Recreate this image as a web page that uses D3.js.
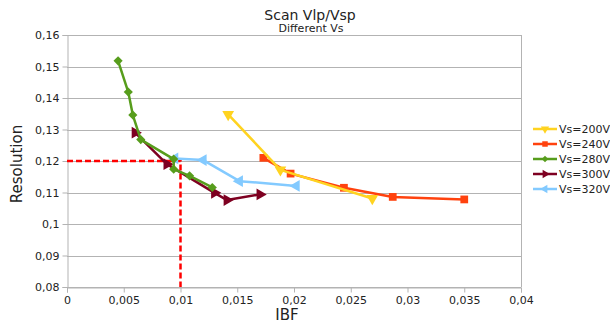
<!DOCTYPE html>
<html>
<head>
<meta charset="utf-8">
<script src="https://cdn.jsdelivr.net/npm/d3@7"></script>
<style>
  body { margin: 0; background: #fff; }
  text { font-family: "DejaVu Sans", Verdana, sans-serif; fill: #222; }
</style>
</head>
<body>
<div id="chart"></div>
<script>
// series names, in legend order
const seriesNames = ["Vs=200V", "Vs=240V", "Vs=280V", "Vs=300V", "Vs=320V"];
const seriesColors = ["#ffd320", "#ff420e", "#579d1c", "#7e0021", "#83caff"];

// IBF / Resolution values for each series
const ibf200 = [0.0142, 0.0188, 0.0269];
const res200 = [0.1348, 0.1172, 0.1081];
const ibf240 = [0.0173, 0.0197, 0.0244, 0.0287, 0.0350];
const res240 = [0.1210, 0.1160, 0.1115, 0.1086, 0.1078];
const ibf280 = [0.0045, 0.0054, 0.0058, 0.0065, 0.0094, 0.0094, 0.0108, 0.0128];
const res280 = [0.1518, 0.1419, 0.1346, 0.1268, 0.1206, 0.1174, 0.1153, 0.1116];
const ibf300 = [0.0060, 0.0088, 0.0130, 0.0141, 0.0170];
const res300 = [0.1290, 0.1190, 0.1099, 0.1076, 0.1094];
const ibf320 = [0.0095, 0.0120, 0.0152, 0.0202];
const res320 = [0.1208, 0.1203, 0.1136, 0.1121];

// reference lines
const refIBF = 0.01;
const refRes = 0.12;

const xTicks = [0, 0.005, 0.01, 0.015, 0.02, 0.025, 0.03, 0.035, 0.04];
const yTicks = [0.08, 0.09, 0.1, 0.11, 0.12, 0.13, 0.14, 0.15, 0.16];

const width = 610, height = 323;
const margin = { top: 35, right: 89, bottom: 36, left: 67 };
const grey = "#b3b3b3";

const series = [
  { name: seriesNames[0], color: seriesColors[0], x: ibf200, y: res200, shape: "down" },
  { name: seriesNames[1], color: seriesColors[1], x: ibf240, y: res240, shape: "square" },
  { name: seriesNames[2], color: seriesColors[2], x: ibf280, y: res280, shape: "diamond" },
  { name: seriesNames[3], color: seriesColors[3], x: ibf300, y: res300, shape: "right" },
  { name: seriesNames[4], color: seriesColors[4], x: ibf320, y: res320, shape: "left" }
];

const fmt = v => String(+v.toFixed(4)).replace(".", ",");

const svg = d3.select("#chart").append("svg")
    .attr("width", width)
    .attr("height", height);

const x = d3.scaleLinear().domain([0, 0.04]).range([margin.left, width - margin.right]);
const y = d3.scaleLinear().domain([0.08, 0.16]).range([height - margin.bottom, margin.top]);

// gridlines
svg.append("g")
    .selectAll("line")
    .data(yTicks)
    .enter()
    .append("line")
    .attr("x1", x(0)).attr("x2", x(0.04))
    .attr("y1", d => Math.round(y(d)) + 0.5).attr("y2", d => Math.round(y(d)) + 0.5)
    .attr("stroke", grey);

// right border of plot area
svg.append("line")
    .attr("x1", Math.round(x(0.04)) + 0.5).attr("x2", Math.round(x(0.04)) + 0.5)
    .attr("y1", y(0.16)).attr("y2", y(0.08))
    .attr("stroke", grey);

// axes
const xAxis = svg.append("g")
    .attr("transform", `translate(0,${Math.round(y(0.08)) + 0.5})`)
    .call(d3.axisBottom(x).tickValues(xTicks).tickFormat(fmt).tickSize(5).tickPadding(4));
const yAxis = svg.append("g")
    .attr("transform", `translate(${Math.round(x(0)) + 0.5},0)`)
    .call(d3.axisLeft(y).tickValues(yTicks).tickFormat(fmt).tickSize(5).tickPadding(3));
[xAxis, yAxis].forEach(a => {
  a.select(".domain").attr("stroke", grey);
  a.selectAll(".tick line").attr("stroke", grey);
  a.selectAll(".tick text").attr("font-size", 11).attr("fill", "#222")
      .style("font-family", "'DejaVu Sans', sans-serif");
});

// red dashed reference lines
const refLine = d3.line().x(d => x(d[0])).y(d => y(d[1]));
svg.append("path")
    .attr("d", refLine([[0, refRes], [refIBF, refRes], [refIBF, 0.08]]))
    .attr("fill", "none")
    .attr("stroke", "#ff0000")
    .attr("stroke-width", 2.5)
    .attr("stroke-dasharray", "6,3");

function symbolPath(shape, size) {
  if (shape === "square") return d3.symbol(d3.symbolSquare, size)();
  if (shape === "diamond") return d3.symbol(d3.symbolSquare, size * 0.7)();
  return d3.symbol(d3.symbolTriangle, size)();
}
function symbolRotate(shape) {
  return { down: 180, right: 90, left: -90, diamond: 45, square: 0 }[shape];
}

const line = d3.line().x(d => x(d[0])).y(d => y(d[1]));

// draw order so the lines overlap like the original
const drawOrder = [1, 0, 3, 4, 2];
drawOrder.forEach(i => {
  const s = series[i];
  const pts = s.x.map((v, j) => [v, s.y[j]]);
  const g = svg.append("g");
  g.append("path")
      .attr("d", line(pts))
      .attr("fill", "none")
      .attr("stroke", s.color)
      .attr("stroke-width", 2.5)
      .attr("stroke-linejoin", "round");
  g.selectAll("path.mark")
      .data(pts)
      .enter()
      .append("path")
      .attr("class", "mark")
      .attr("d", symbolPath(s.shape, 60))
      .attr("transform", d => `translate(${x(d[0])},${y(d[1])}) rotate(${symbolRotate(s.shape)})`)
      .attr("fill", s.color);
});

// titles
svg.append("text")
    .attr("x", 310).attr("y", 20)
    .attr("text-anchor", "middle")
    .attr("font-size", 14)
    .text("Scan Vlp/Vsp");
svg.append("text")
    .attr("x", 311).attr("y", 32)
    .attr("text-anchor", "middle")
    .attr("font-size", 11)
    .text("Different Vs");

// axis titles
svg.append("text")
    .attr("x", 287).attr("y", 320)
    .attr("text-anchor", "middle")
    .attr("font-size", 15)
    .text("IBF");
svg.append("text")
    .attr("transform", "translate(22,164) rotate(-90)")
    .attr("text-anchor", "middle")
    .attr("font-size", 15)
    .text("Resolution");

// legend
const legend = svg.append("g")
    .selectAll("g")
    .data(series)
    .enter()
    .append("g")
    .attr("transform", (d, i) => `translate(533,${129 + i * 15})`);
legend.append("line")
    .attr("x1", 0).attr("x2", 24)
    .attr("stroke", d => d.color)
    .attr("stroke-width", 2.5);
legend.append("path")
    .attr("d", d => symbolPath(d.shape, 30))
    .attr("transform", d => `translate(12,0) rotate(${symbolRotate(d.shape)})`)
    .attr("fill", d => d.color);
legend.append("text")
    .attr("x", 26).attr("y", 4)
    .attr("font-size", 11)
    .text(d => d.name);
</script>
</body>
</html>
